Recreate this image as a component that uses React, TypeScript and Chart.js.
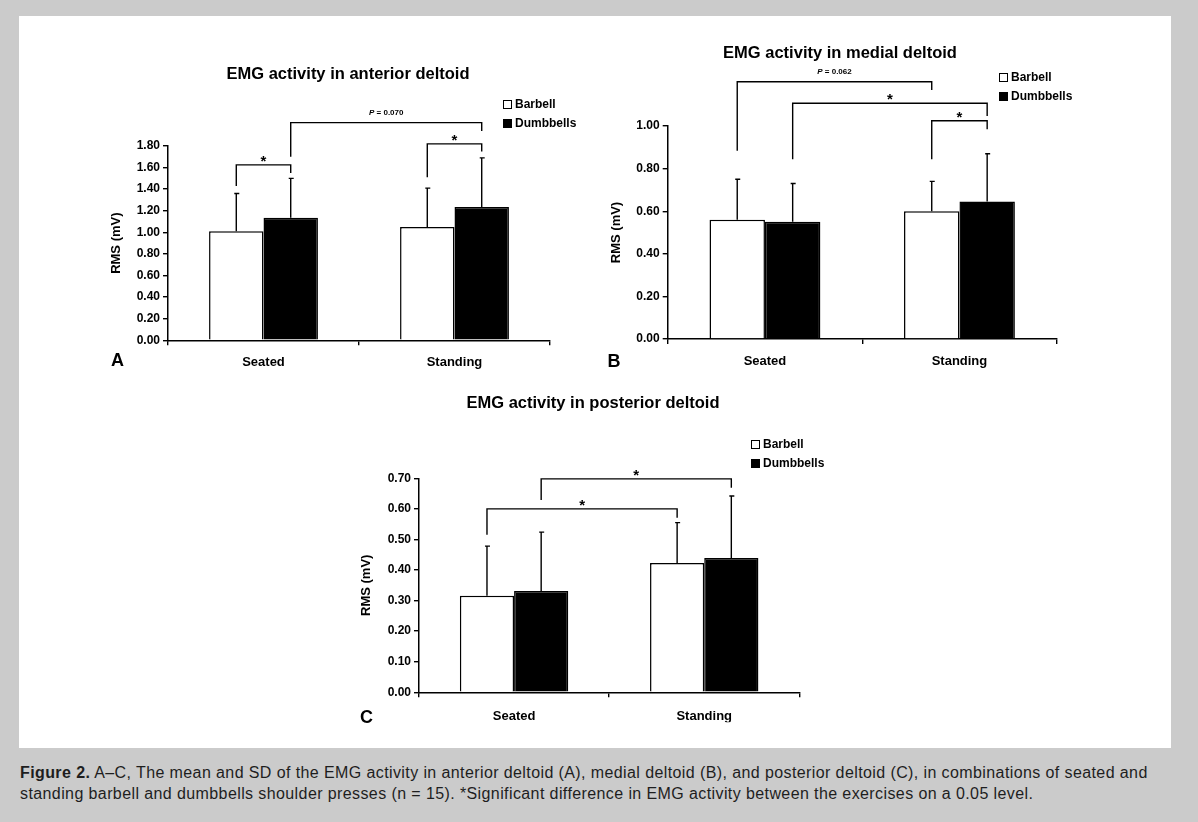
import React, { useEffect, useRef } from "react";
import { Chart, registerables } from "chart.js";

Chart.register(...registerables);
Chart.defaults.font.family = "'Liberation Sans', Arial, Helvetica, sans-serif";

// ---------- data ----------
const categories = ["Seated", "Standing"];
const seriesNames = ["Barbell", "Dumbbells"];

const anteriorBarbell = [1.01, 1.05];
const anteriorBarbellSD = [0.35, 0.36];
const anteriorDumbbells = [1.135, 1.235];
const anteriorDumbbellsSD = [0.365, 0.455];
const anteriorTicks = [0, 0.2, 0.4, 0.6, 0.8, 1.0, 1.2, 1.4, 1.6, 1.8];

const medialBarbell = [0.56, 0.6];
const medialBarbellSD = [0.19, 0.14];
const medialDumbbells = [0.55, 0.645];
const medialDumbbellsSD = [0.18, 0.225];
const medialTicks = [0, 0.2, 0.4, 0.6, 0.8, 1.0];

const posteriorBarbell = [0.316, 0.423];
const posteriorBarbellSD = [0.162, 0.132];
const posteriorDumbbells = [0.331, 0.439];
const posteriorDumbbellsSD = [0.193, 0.203];
const posteriorTicks = [0, 0.1, 0.2, 0.3, 0.4, 0.5, 0.6, 0.7];

// significance brackets: [categoryIndex, seriesIndex] endpoints, leg ends and top in RMS units
type Bracket = {
  from: [number, number];
  to: [number, number];
  leftEnd: number;
  rightEnd: number;
  top: number;
  label: string;
};

const anteriorBrackets: Bracket[] = [
  { from: [0, 0], to: [0, 1], leftEnd: 1.43, rightEnd: 1.55, top: 1.625, label: "*" },
  { from: [0, 1], to: [1, 1], leftEnd: 1.7, rightEnd: 1.94, top: 2.017, label: "P = 0.070" },
  { from: [1, 0], to: [1, 1], leftEnd: 1.51, rightEnd: 1.75, top: 1.82, label: "*" },
];
const medialBrackets: Bracket[] = [
  { from: [0, 0], to: [1, 0], leftEnd: 0.884, rightEnd: 1.169, top: 1.208, label: "P = 0.062" },
  { from: [0, 1], to: [1, 1], leftEnd: 0.844, rightEnd: 1.047, top: 1.107, label: "*" },
  { from: [1, 0], to: [1, 1], leftEnd: 0.844, rightEnd: 0.985, top: 1.025, label: "*" },
];
const posteriorBrackets: Bracket[] = [
  { from: [0, 0], to: [1, 0], leftEnd: 0.515, rightEnd: 0.571, top: 0.6, label: "*" },
  { from: [0, 1], to: [1, 1], leftEnd: 0.629, rightEnd: 0.669, top: 0.698, label: "*" },
];

const FONT = "'Liberation Sans', Arial, Helvetica, sans-serif";

function makeAnnotations(sds: number[][], brackets: Bracket[]) {
  return {
    id: "annotations",
    afterDatasetsDraw(chart: any) {
      const ctx = chart.ctx as CanvasRenderingContext2D;
      const ys = chart.scales.y;
      ctx.save();
      ctx.strokeStyle = "#000";
      ctx.lineWidth = 1.4;
      // error bars (upper SD only)
      sds.forEach((sd, di) => {
        const meta = chart.getDatasetMeta(di);
        const vals = chart.data.datasets[di].data as number[];
        meta.data.forEach((bar: any, j: number) => {
          const yTop = ys.getPixelForValue(vals[j] + sd[j]);
          ctx.beginPath();
          ctx.moveTo(bar.x, bar.y);
          ctx.lineTo(bar.x, yTop);
          ctx.moveTo(bar.x - 2, yTop);
          ctx.lineTo(bar.x + 3, yTop);
          ctx.stroke();
        });
      });
      // brackets
      brackets.forEach((b) => {
        const x1 = chart.getDatasetMeta(b.from[1]).data[b.from[0]].x;
        const x2 = chart.getDatasetMeta(b.to[1]).data[b.to[0]].x;
        const yT = ys.getPixelForValue(b.top);
        ctx.beginPath();
        ctx.moveTo(x1, ys.getPixelForValue(b.leftEnd));
        ctx.lineTo(x1, yT);
        ctx.lineTo(x2, yT);
        ctx.lineTo(x2, ys.getPixelForValue(b.rightEnd));
        ctx.stroke();
        const xm = (x1 + x2) / 2;
        ctx.fillStyle = "#000";
        if (b.label === "*") {
          ctx.font = `bold 15px ${FONT}`;
          ctx.textAlign = "center";
          ctx.textBaseline = "alphabetic";
          ctx.fillText("*", xm, yT + 1);
        } else {
          const head = b.label.slice(0, 1);
          const rest = b.label.slice(1);
          ctx.textBaseline = "middle";
          ctx.textAlign = "left";
          ctx.font = `italic bold 8px ${FONT}`;
          const w1 = ctx.measureText(head).width;
          ctx.font = `bold 8px ${FONT}`;
          const w2 = ctx.measureText(rest).width;
          const x0 = xm - (w1 + w2) / 2;
          ctx.font = `italic bold 8px ${FONT}`;
          ctx.fillText(head, x0, yT - 9.5);
          ctx.font = `bold 8px ${FONT}`;
          ctx.fillText(rest, x0 + w1, yT - 9.5);
        }
      });
      ctx.restore();
    },
  };
}

type PanelDef = {
  left: number;
  top: number;
  width: number;
  height: number;
  yWidth: number;
  xPad: number;
  pad: { left: number; top: number; right: number; bottom: number };
  barbell: number[];
  barbellSD: number[];
  dumbbells: number[];
  dumbbellsSD: number[];
  ticks: number[];
  brackets: Bracket[];
};

const panels: PanelDef[] = [
  {
    left: 90, top: 40, width: 510, height: 340, yWidth: 78, xPad: 9,
    pad: { left: 0, top: 106, right: 50, bottom: 9.7 },
    barbell: anteriorBarbell, barbellSD: anteriorBarbellSD,
    dumbbells: anteriorDumbbells, dumbbellsSD: anteriorDumbbellsSD,
    ticks: anteriorTicks, brackets: anteriorBrackets,
  },
  {
    left: 590, top: 30, width: 500, height: 350, yWidth: 77.7, xPad: 10,
    pad: { left: 0, top: 96, right: 33.3, bottom: 11 },
    barbell: medialBarbell, barbellSD: medialBarbellSD,
    dumbbells: medialDumbbells, dumbbellsSD: medialDumbbellsSD,
    ticks: medialTicks, brackets: medialBrackets,
  },
  {
    left: 340, top: 410, width: 500, height: 330, yWidth: 79, xPad: 11,
    pad: { left: 0, top: 68.3, right: 40.7, bottom: 17.7 },
    barbell: posteriorBarbell, barbellSD: posteriorBarbellSD,
    dumbbells: posteriorDumbbells, dumbbellsSD: posteriorDumbbellsSD,
    ticks: posteriorTicks, brackets: posteriorBrackets,
  },
];

function Panel({ p }: { p: PanelDef }) {
  const ref = useRef<HTMLCanvasElement>(null);
  useEffect(() => {
    const tickVals = p.ticks;
    const chart = new Chart(ref.current as HTMLCanvasElement, {
      type: "bar",
      data: {
        labels: categories,
        datasets: [
          {
            label: seriesNames[0],
            data: p.barbell,
            backgroundColor: "#ffffff",
            borderColor: "#000000",
            borderWidth: 1.5,
            categoryPercentage: 0.57,
            barPercentage: 1.0,
          },
          {
            label: seriesNames[1],
            data: p.dumbbells,
            backgroundColor: "#000000",
            borderColor: "#000000",
            borderWidth: 1.5,
            categoryPercentage: 0.57,
            barPercentage: 1.0,
          },
        ],
      },
      options: {
        responsive: false,
        animation: false,
        layout: { padding: p.pad },
        plugins: {
          legend: { display: false },
          tooltip: { enabled: false },
          title: { display: false },
        },
        scales: {
          x: {
            type: "category",
            offset: true,
            grid: {
              display: true,
              drawOnChartArea: false,
              drawTicks: true,
              tickLength: 5,
              color: "#000",
              lineWidth: 1.4,
              offset: true,
            },
            border: { display: true, color: "#000", width: 1.5 },
            ticks: {
              color: "#000",
              font: { size: 13, weight: "bold" },
              padding: p.xPad,
              maxRotation: 0,
            },
            afterFit: (s: any) => {
              s.height = 30;
            },
          },
          y: {
            type: "linear",
            min: 0,
            max: tickVals[tickVals.length - 1],
            afterBuildTicks: (s: any) => {
              s.ticks = tickVals.map((v) => ({ value: v }));
            },
            ticks: {
              color: "#000",
              font: { size: 12, weight: "bold" },
              padding: 3,
              callback: (v: any) => Number(v).toFixed(2),
            },
            grid: {
              display: true,
              drawOnChartArea: false,
              drawTicks: true,
              tickLength: 5,
              color: "#000",
              lineWidth: 1.4,
            },
            border: { display: true, color: "#000", width: 1.5 },
            title: {
              display: true,
              text: "RMS (mV)",
              color: "#000",
              font: { size: 13, weight: "bold" },
              padding: { top: 19, bottom: 0 },
            },
            afterFit: (s: any) => {
              s.width = p.yWidth;
            },
          },
        },
      } as any,
      plugins: [makeAnnotations([p.barbellSD, p.dumbbellsSD], p.brackets)],
    });
    return () => chart.destroy();
  }, [p]);
  return (
    <canvas
      ref={ref}
      width={p.width}
      height={p.height}
      style={{ position: "absolute", left: p.left, top: p.top, width: p.width, height: p.height }}
    />
  );
}

const titles = [
  { text: "EMG activity in anterior deltoid", x: 348, y: 73 },
  { text: "EMG activity in medial deltoid", x: 840, y: 52 },
  { text: "EMG activity in posterior deltoid", x: 593, y: 402 },
];
const legends = [
  { x: 503, y: 104 },
  { x: 999, y: 77 },
  { x: 751, y: 444 },
];
const letters = [
  { t: "A", x: 117.5, y: 360 },
  { t: "B", x: 614, y: 361 },
  { t: "C", x: 366.5, y: 716.5 },
];

export default function App() {
  return (
    <div
      style={{
        position: "absolute",
        left: 0,
        top: 0,
        width: 1198,
        height: 822,
        background: "#cbcbcb",
        overflow: "hidden",
        fontFamily: FONT,
        color: "#000",
      }}
    >
      <div style={{ position: "absolute", left: 19, top: 16, width: 1152, height: 732, background: "#fff" }} />
      {panels.map((p, i) => (
        <Panel key={i} p={p} />
      ))}
      {titles.map((t, i) => (
        <div
          key={"t" + i}
          style={{
            position: "absolute",
            left: t.x,
            top: t.y,
            transform: "translate(-50%,-50%)",
            whiteSpace: "nowrap",
            fontWeight: "bold",
            fontSize: 16.5,
            lineHeight: 1,
          }}
        >
          {t.text}
        </div>
      ))}
      {legends.map((l, i) => (
        <div key={"l" + i}>
          {seriesNames.map((n, k) => (
            <div
              key={n}
              style={{
                position: "absolute",
                left: l.x,
                top: l.y + k * 19.3 - 6,
                height: 12,
                display: "flex",
                alignItems: "center",
                whiteSpace: "nowrap",
                fontWeight: "bold",
                fontSize: 12,
                lineHeight: 1,
              }}
            >
              <span
                style={{
                  display: "inline-block",
                  width: 9,
                  height: 9,
                  boxSizing: "border-box",
                  border: "1.5px solid #000",
                  background: k === 0 ? "#fff" : "#000",
                  marginRight: 3,
                }}
              />
              <span>{n}</span>
            </div>
          ))}
        </div>
      ))}
      {letters.map((l) => (
        <div
          key={l.t}
          style={{
            position: "absolute",
            left: l.x,
            top: l.y,
            transform: "translate(-50%,-50%)",
            fontWeight: "bold",
            fontSize: 18,
            lineHeight: 1,
          }}
        >
          {l.t}
        </div>
      ))}
      <div
        style={{
          position: "absolute",
          left: 20,
          top: 762,
          fontFamily: FONT,
          fontSize: 16,
          letterSpacing: "0.4px",
          lineHeight: "21px",
          color: "#1e1e1e",
          whiteSpace: "nowrap",
        }}
      >
        <b>Figure 2.</b> A–C, The mean and SD of the EMG activity in anterior deltoid (A), medial deltoid (B), and posterior deltoid (C), in combinations of seated and
        <br />
        standing barbell and dumbbells shoulder presses (n = 15). *Significant difference in EMG activity between the exercises on a 0.05 level.
      </div>
    </div>
  );
}
